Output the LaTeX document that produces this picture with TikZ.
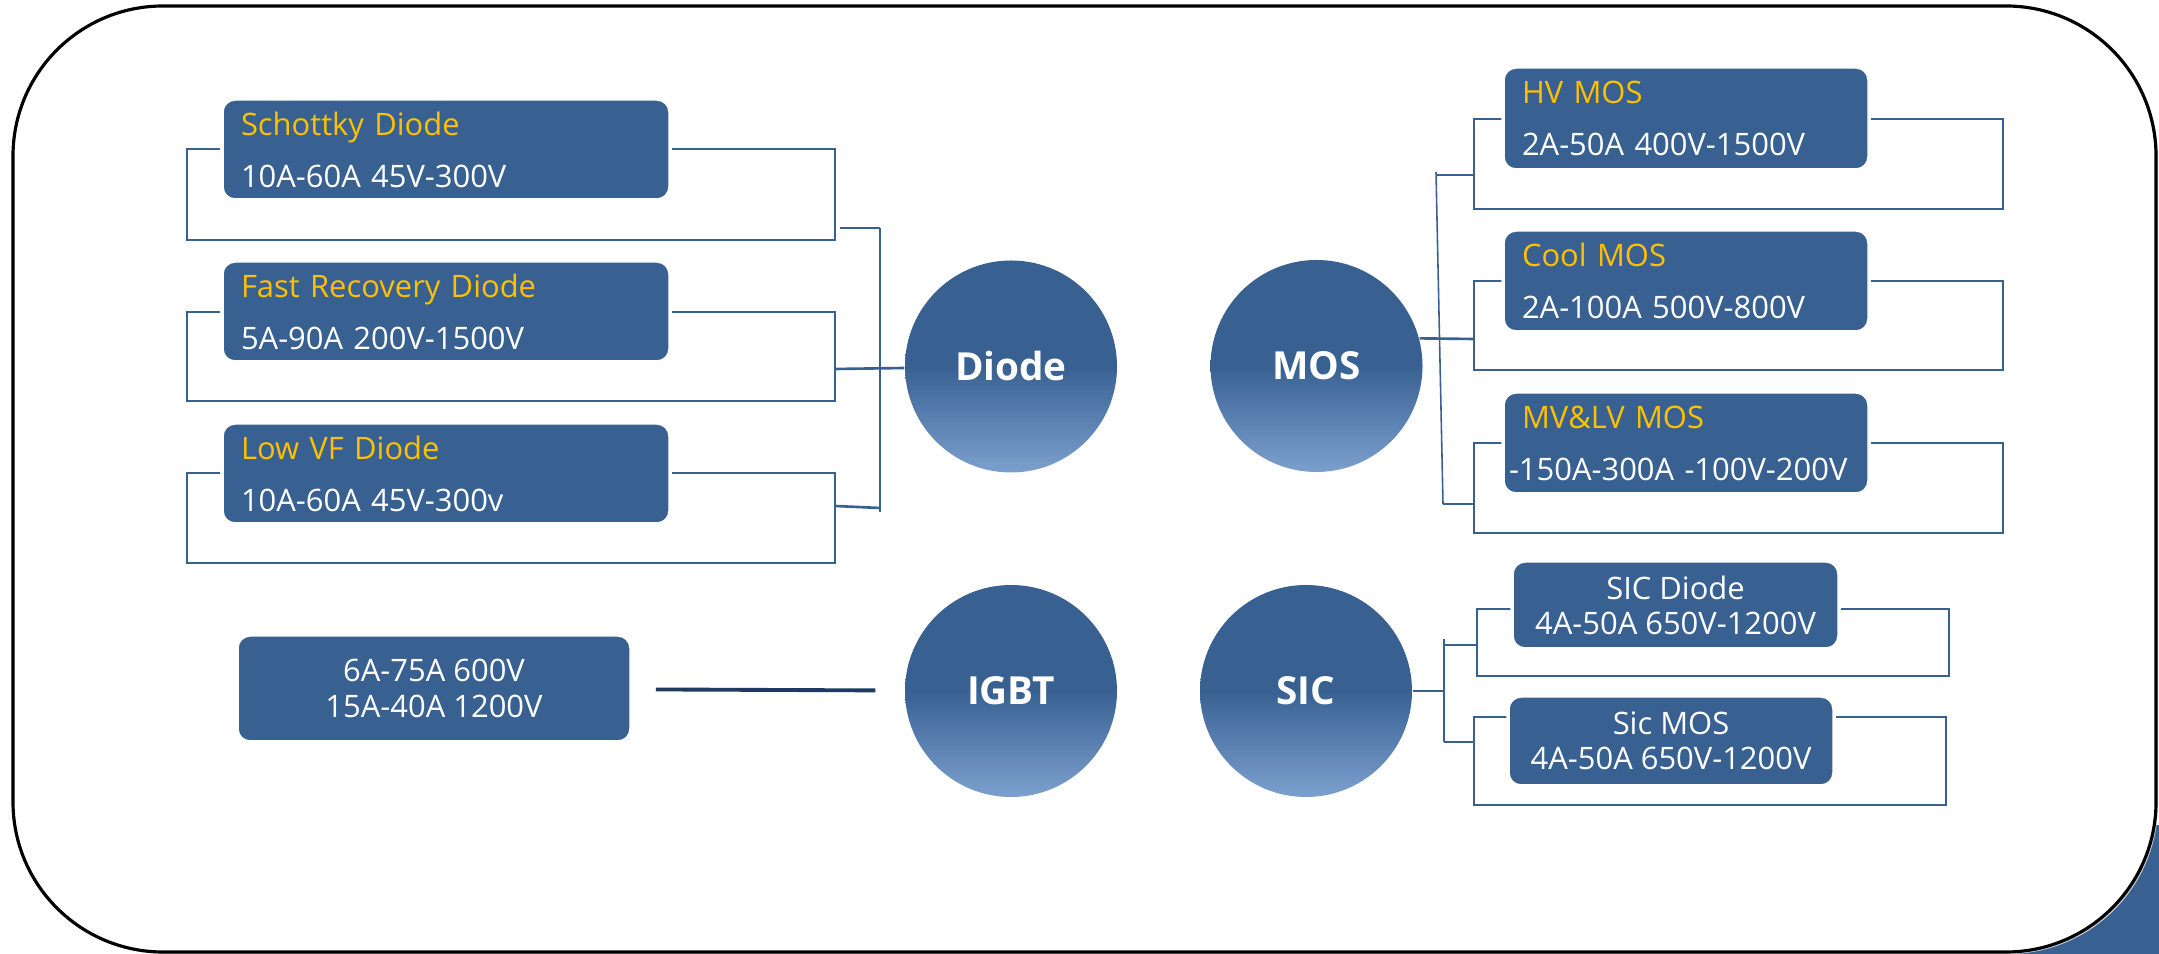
\documentclass[tikz,border=0pt]{standalone}
\usepackage{fontspec}
\setmainfont{Open Sans}
\usepackage{tikz}
\definecolor{boxblue}{RGB}{56,97,146}
\definecolor{hubbot}{RGB}{124,160,206}
\definecolor{gold}{RGB}{255,192,0}
\definecolor{navy}{RGB}{31,58,96}
\tikzset{catbox/.style={rectangle,rounded corners=1.3mm,fill=boxblue,draw=white,line width=1pt,text=white,font=\fontsize{8.8pt}{14.8pt}\selectfont,align=left,inner xsep=0.19cm,inner ysep=0pt}}
\tikzset{sicbox/.style={catbox,align=center,font=\fontsize{8.8pt}{10pt}\selectfont}}
\tikzset{hub/.style={circle,minimum size=2.12cm,inner sep=0pt,top color=boxblue,bottom color=hubbot,middle color=boxblue,text=white,font=\bfseries\fontsize{11pt}{13pt}\selectfont}}
\tikzset{frm/.style={draw=boxblue,line width=0.75pt}}
\tikzset{link/.style={draw=boxblue,line width=0.45pt}}

\begin{document}
\begin{tikzpicture}
    \useasboundingbox (0,0) rectangle (21.59,-9.54);
    % outer frame
    \fill[boxblue] (19.9,-8.25) rectangle (21.59,-9.54);
    \fill[black!18,rounded corners=1.5cm] (0.16,-0.09) rectangle (21.58,-9.54);
    \draw[line width=0.9pt,fill=white,rounded corners=1.5cm] (0.13,-0.06) rectangle (21.56,-9.52);

    \node[hub] (diode) at (10.11,-3.665) {Diode};
    \node[hub] (igbt) at (10.11,-6.91) {IGBT};
    \node[hub] (mos) at (13.165,-3.66) {MOS};
    \node[hub] (sic) at (13.06,-6.91) {SIC};

    % brackets behind the boxes
    \draw[frm] (1.87,-1.49) rectangle (8.35,-2.40);
    \draw[frm] (1.87,-3.12) rectangle (8.35,-4.01);
    \draw[frm] (1.87,-4.73) rectangle (8.35,-5.63);
    \draw[frm] (14.74,-1.19) rectangle (20.03,-2.09);
    \draw[frm] (14.74,-2.81) rectangle (20.03,-3.70);
    \draw[frm] (14.74,-4.43) rectangle (20.03,-5.33);
    \draw[frm] (14.77,-6.09) rectangle (19.49,-6.76);
    \draw[frm] (14.74,-7.17) rectangle (19.46,-8.05);

    \node[catbox,text width=4.10cm,minimum height=1.01cm] (schottky) at (4.46,-1.495) {\textcolor{gold}{Schottky Diode}\\10A-60A 45V-300V};
    \node[catbox,text width=4.10cm,minimum height=1.01cm] (fastrec) at (4.46,-3.115) {\textcolor{gold}{Fast Recovery Diode}\\5A-90A 200V-1500V};
    \node[catbox,text width=4.10cm,minimum height=1.01cm] (lowvf) at (4.46,-4.735) {\textcolor{gold}{Low VF Diode}\\10A-60A 45V-300v};
    \node[sicbox,minimum width=3.94cm,minimum height=1.07cm] (igbtbox) at (4.34,-6.885) {6A-75A 600V\\15A-40A 1200V};

    \node[catbox,text width=3.28cm,minimum height=1.03cm] (hvmos) at (16.86,-1.185) {\textcolor{gold}{HV MOS}\\2A-50A 400V-1500V};
    \node[catbox,text width=3.28cm,minimum height=1.02cm] (coolmos) at (16.86,-2.81) {\textcolor{gold}{Cool MOS}\\2A-100A 500V-800V};
    \node[catbox,text width=3.28cm,minimum height=1.02cm] (mvlv) at (16.86,-4.43) {\textcolor{gold}{MV\&LV MOS}\\\hspace*{-1.3mm}-150A-300A -100V-200V};
    \node[sicbox,minimum width=3.27cm,minimum height=0.88cm] (sicdiode) at (16.755,-6.05) {SIC Diode\\4A-50A 650V-1200V};
    \node[sicbox,minimum width=3.26cm,minimum height=0.90cm] (sicmos) at (16.71,-7.41) {Sic MOS\\4A-50A 650V-1200V};

    % diode bus
    \coordinate (d1) at (8.40,-2.28);
    \coordinate (d1b) at (8.80,-2.28);
    \coordinate (d2) at (8.35,-3.69);
    \coordinate (d3) at (8.35,-5.06);
    \coordinate (d3b) at (8.80,-5.08);
    \coordinate (d4) at (8.80,-5.12);
    \draw[link] (d1b) -- (d4);
    \draw[frm] (d1) -- (d1b);
    \draw[frm] (d3) -- (d3b);
    \draw[frm] (d2) -- (diode);

    % mos bus
    \coordinate (m0) at (14.36,-1.72);
    \coordinate (m1) at (14.36,-1.75);
    \coordinate (m1b) at (14.74,-1.75);
    \coordinate (m2) at (14.74,-3.39);
    \coordinate (m3) at (14.43,-5.04);
    \coordinate (m3b) at (14.74,-5.04);
    \draw[link] (m0) -- (m3);
    \draw[frm] (m1) -- (m1b);
    \draw[frm] (mos.15) -- (m2);
    \draw[frm] (m3) -- (m3b);

    % sic bus
    \coordinate (s0) at (14.44,-6.39);
    \coordinate (s1) at (14.44,-6.45);
    \coordinate (s1b) at (14.77,-6.45);
    \coordinate (s2) at (14.44,-6.91);
    \coordinate (s3) at (14.44,-7.42);
    \coordinate (s3b) at (14.74,-7.42);
    \draw[link] (s0) -- (s3);
    \draw[frm] (s1) -- (s1b);
    \draw[frm] (sic) -- (s2);
    \draw[frm] (s3) -- (s3b);

    \draw[navy,line width=1.1pt,shorten <=0.23cm,shorten >=0.29cm] (igbtbox) -- (igbt);
\end{tikzpicture}
\end{document}
